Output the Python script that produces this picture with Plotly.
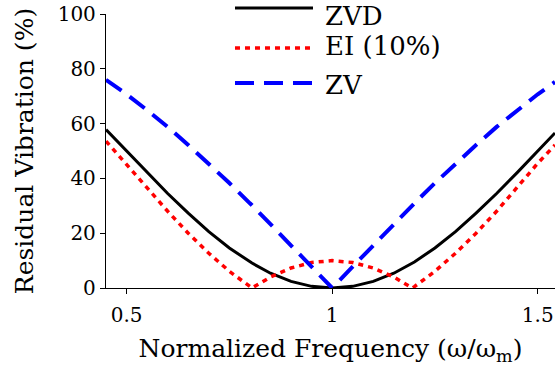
import plotly.graph_objects as go

# Normalized frequency (omega / omega_m)
freq = [0.45, 0.5, 0.55, 0.6, 0.65, 0.7, 0.75, 0.8, 0.805, 0.85, 0.9, 0.95, 1.0,
        1.05, 1.1, 1.15, 1.195, 1.2, 1.25, 1.3, 1.35, 1.4, 1.45, 1.5, 1.542]

# Residual vibration (%)
zvd = [57.8, 50.0, 42.1, 34.5, 27.3, 20.6, 14.6, 9.5, 9.1, 5.4, 2.4, 0.6, 0.0,
       0.6, 2.4, 5.4, 9.1, 9.5, 14.6, 20.6, 27.3, 34.5, 42.1, 50.0, 56.6]
ei10 = [53.6, 45.0, 36.4, 28.0, 20.0, 12.7, 6.1, 0.5, 0.0, 4.0, 7.3, 9.3, 10.0,
        9.3, 7.3, 4.0, 0.0, 0.5, 6.1, 12.7, 20.0, 28.0, 36.6, 45.5, 52.2]
zv = [76.0, 70.7, 64.9, 58.8, 52.2, 45.4, 38.3, 30.9, 30.2, 23.3, 15.6, 7.8, 0.0,
      7.8, 15.6, 23.3, 30.2, 30.9, 38.3, 45.4, 52.2, 58.8, 64.9, 70.7, 75.2]

series_names = ["ZVD", "EI (10%)", "ZV"]
series_values = [zvd, ei10, zv]
series_colors = ["#000000", "#ff0000", "#0000ff"]
series_dash = ["solid", "5px,5px", "19px,10px"]
series_width = [3, 3.5, 4]

x_ticks = [0.5, 1, 1.5]
x_tick_labels = ["0.5", "1", "1.5"]
y_ticks = [0, 20, 40, 60, 80, 100]

FONT = "DejaVu Serif"

fig = go.Figure()
for name, vals, col, dash, w in zip(series_names, series_values, series_colors,
                                     series_dash, series_width):
    fig.add_trace(go.Scatter(x=freq, y=vals, mode="lines", name=name,
                             line=dict(color=col, dash=dash, width=w),
                             showlegend=False, hoverinfo="skip"))

# Custom legend (long line samples, as in the reference)
leg_line_y = [1.022, 0.876, 0.748]
leg_text_y = [0.994, 0.883, 0.741]
for name, col, dash, w, yl, yt in zip(series_names, series_colors, series_dash,
                                       series_width, leg_line_y, leg_text_y):
    fig.add_shape(type="line", xref="paper", yref="paper",
                  x0=0.2873, x1=0.461, y0=yl, y1=yl,
                  line=dict(color=col, dash=dash, width=w))
    fig.add_annotation(xref="paper", yref="paper", x=0.483, y=yt,
                       text=name, showarrow=False, xanchor="left",
                       yanchor="middle",
                       font=dict(family=FONT, size=26, color="black"))

fig.update_layout(
    width=555, height=381,
    margin=dict(l=106, r=0, t=14, b=93, autoexpand=False),
    plot_bgcolor="white", paper_bgcolor="white",
    font=dict(family=FONT, size=20, color="black"),
    xaxis=dict(range=[0.45, 1.542], tickvals=x_ticks, ticktext=x_tick_labels,
               ticks="outside", ticklen=5, tickcolor="black", tickwidth=1,
               showline=True, linecolor="black", linewidth=1.3,
               showgrid=False, zeroline=False, automargin=False,
               ticklabeloverflow="allow", ticklabelstandoff=4,
               tickfont=dict(family=FONT, size=20),
               title=dict(text="Normalized Frequency (ω/ω<sub>m</sub>)",
                          font=dict(family=FONT, size=25), standoff=13)),
    yaxis=dict(range=[0, 100], tickvals=y_ticks,
               ticks="outside", ticklen=5, tickcolor="black", tickwidth=1,
               showline=True, linecolor="black", linewidth=1.3,
               showgrid=False, zeroline=False, automargin=False,
               ticklabeloverflow="allow",
               tickfont=dict(family=FONT, size=20),
               title=dict(text="Residual Vibration (%)",
                          font=dict(family=FONT, size=25), standoff=16)),
)

fig.write_html("out.html",
               config={"displayModeBar": False},
               post_script="document.body.style.margin='0';")
